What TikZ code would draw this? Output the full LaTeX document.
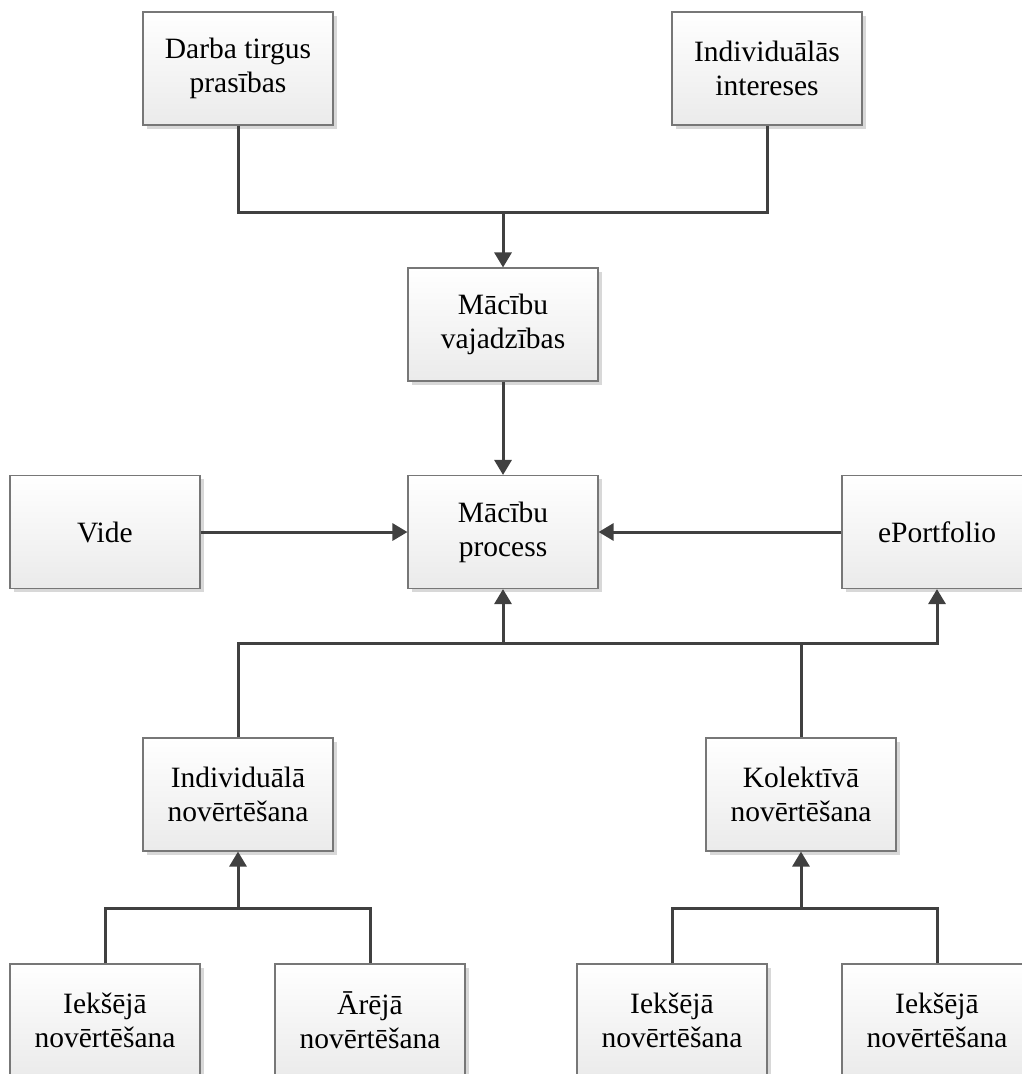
\documentclass[tikz,border=0pt]{standalone}
\usepackage{fontspec}
\setmainfont{Liberation Serif}
\usetikzlibrary{arrows.meta,shadows}
\definecolor{linec}{HTML}{404040}
\definecolor{boxline}{HTML}{777777}
\definecolor{shadc}{HTML}{D8D8D8}
\tikzset{
  box/.style={draw=boxline, line width=1.1pt, top color=white, bottom color=black!8,
    minimum width=190pt, minimum height=113pt, align=center, inner sep=0pt,
    font=\fontsize{29.5}{34}\selectfont,
    drop shadow={shadow xshift=3.5pt, shadow yshift=-3.5pt, fill=shadc, opacity=1}},
  conn/.style={draw=linec, line width=3pt},
  arr/.style={conn, -{Triangle[length=15pt,width=17pt]}}
}
\begin{document}
\begin{tikzpicture}[x=1pt,y=-1pt]
\useasboundingbox (0,0) rectangle (1022,1074);
\clip (0,0) rectangle (1022,1074);
\node[box] (darba) at (238,68.5) {Darba tirgus\\prasības};
\node[box] (indint) at (767,68.5) {Individuālās\\intereses};
\node[box] (vaj) at (503,324.5) {Mācību\\vajadzības};
\node[box] (proc) at (503,532) {Mācību\\process};
\node[box] (vide) at (105,532) {Vide};
\node[box] (eport) at (937,532) {ePortfolio};
\node[box] (indnov) at (238,794.5) {Individuālā\\novērtēšana};
\node[box] (kolnov) at (801,794.5) {Kolektīvā\\novērtēšana};
\node[box] (b1) at (105,1020.5) {Iekšējā\\novērtēšana};
\node[box] (b2) at (370,1020.5) {Ārējā\\novērtēšana};
\node[box] (b3) at (672,1020.5) {Iekšējā\\novērtēšana};
\node[box] (b4) at (937,1020.5) {Iekšējā\\novērtēšana};

\coordinate (j1) at (503,212);
\coordinate (j2) at (503,643);
\coordinate (j2k) at (801,643);
\coordinate (j3) at (238,908);
\coordinate (j4) at (801,908);

\draw[conn] (darba.south) |- (j1) -| (indint.south);
\draw[arr] (j1) -- (vaj.north);
\draw[arr] (vaj.south) -- (proc.north);
\draw[arr] (vide.east) -- (proc.west);
\draw[arr] (eport.west) -- (proc.east);
\draw[arr] (indnov.north) |- (j2) -| (eport.south);
\draw[conn] (kolnov.north) -- (j2k);
\draw[arr] (j2) -- (proc.south);
\draw[conn] (b1.north) |- (j3) -| (b2.north);
\draw[arr] (j3) -- (indnov.south);
\draw[conn] (b3.north) |- (j4) -| (b4.north);
\draw[arr] (j4) -- (kolnov.south);
\end{tikzpicture}
\end{document}
